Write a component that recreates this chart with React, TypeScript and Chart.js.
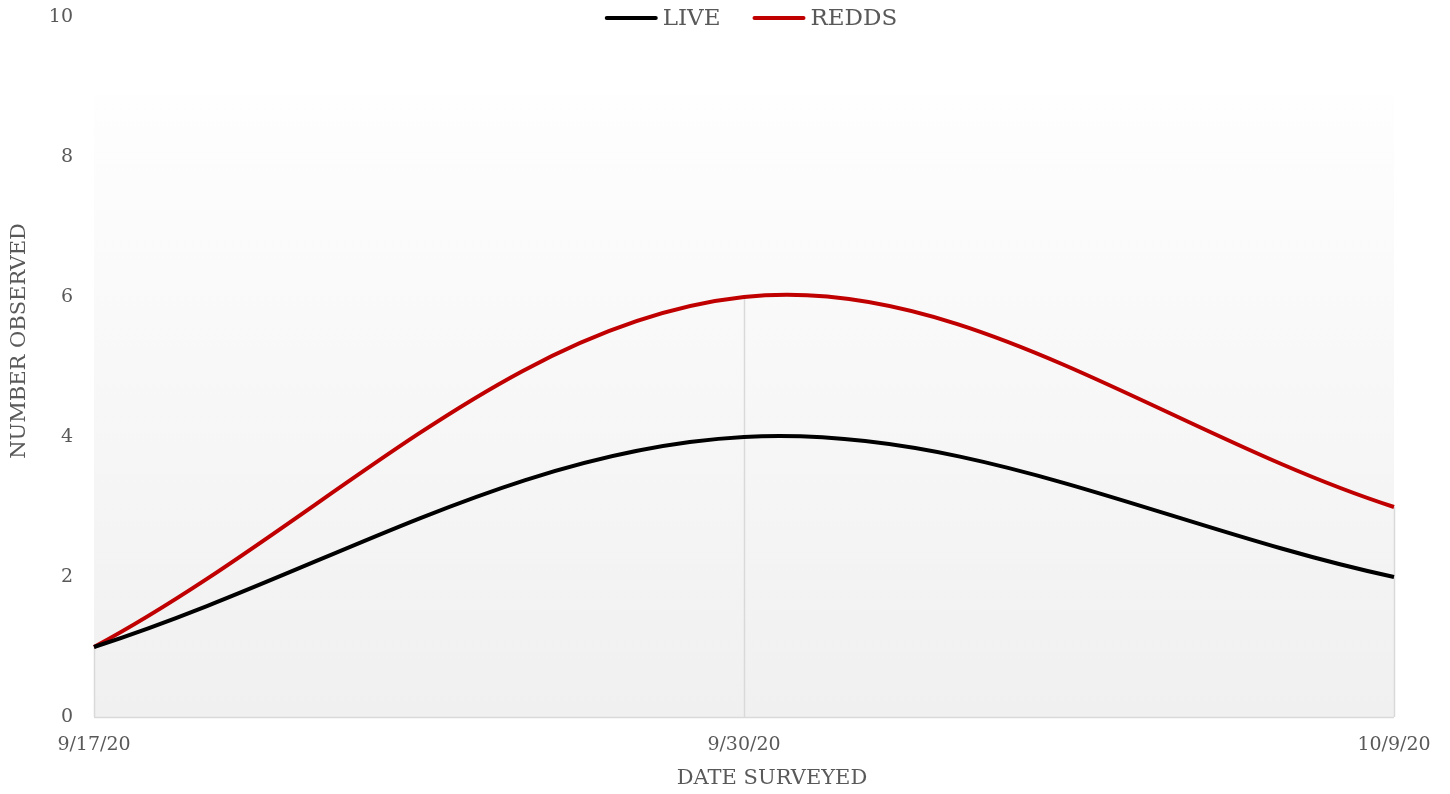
import React, { useEffect, useRef } from "react";
import { Chart, registerables } from "chart.js";

Chart.register(...registerables);

const categories = ["9/17/20", "9/30/20", "10/9/20"];
const liveValues = [1, 4, 2];
const reddsValues = [1, 6, 3];
const yTicks = [0, 2, 4, 6, 8, 10];
const xTitle = "DATE SURVEYED";
const yTitle = "NUMBER OBSERVED";

const FONT = "'DejaVu Serif', serif";
const TEXT_COLOR = "#595959";

const bgPlugin = {
  id: "bgPlugin",
  beforeDatasetsDraw(chart: any) {
    const { ctx, chartArea } = chart;
    const x = chart.scales.x;
    const y = chart.scales.y;
    const top = chartArea.top + 78;
    const bottom = chartArea.bottom;
    ctx.save();
    const g = ctx.createLinearGradient(0, top, 0, bottom);
    g.addColorStop(0, "#fefefe");
    g.addColorStop(1, "#f0f0f0");
    ctx.fillStyle = g;
    ctx.fillRect(chartArea.left, top, chartArea.right - chartArea.left, bottom - top);
    ctx.strokeStyle = "#d9d9d9";
    ctx.lineWidth = 1.5;
    categories.forEach((_, i) => {
      const maxV = Math.max(...chart.data.datasets.map((d: any) => d.data[i]));
      const px = Math.round(x.getPixelForValue(i)) + 0.5;
      ctx.beginPath();
      ctx.moveTo(px, y.getPixelForValue(maxV));
      ctx.lineTo(px, bottom);
      ctx.stroke();
    });
    ctx.beginPath();
    ctx.moveTo(chartArea.left, bottom + 0.5);
    ctx.lineTo(chartArea.right, bottom + 0.5);
    ctx.stroke();
    ctx.restore();
  },
};

const textPlugin = {
  id: "textPlugin",
  afterDraw(chart: any) {
    const { ctx } = chart;
    ctx.save();
    ctx.fillStyle = TEXT_COLOR;
    ctx.font = `21px ${FONT}`;
    ctx.textAlign = "center";
    ctx.textBaseline = "middle";
    ctx.fillText(xTitle, 772, 779);
    ctx.save();
    ctx.translate(20, 341);
    ctx.rotate(-Math.PI / 2);
    ctx.fillText(yTitle, 0, 0);
    ctx.restore();

    ctx.font = `23px ${FONT}`;
    const items = chart.data.datasets.map((d: any) => ({ label: d.label, color: d.borderColor }));
    const lineLen = 53;
    const gapText = 5;
    const gapItems = 32;
    const widths = items.map((it: any) => lineLen + gapText + ctx.measureText(it.label).width);
    const total = widths.reduce((a: number, b: number) => a + b, 0) + gapItems * (items.length - 1);
    let x = 751 - total / 2;
    const yy = 18;
    items.forEach((it: any, i: number) => {
      ctx.strokeStyle = it.color;
      ctx.lineWidth = 4;
      ctx.lineCap = "round";
      ctx.beginPath();
      ctx.moveTo(x + 2, yy);
      ctx.lineTo(x + lineLen - 2, yy);
      ctx.stroke();
      ctx.fillStyle = TEXT_COLOR;
      ctx.textAlign = "left";
      ctx.fillText(it.label, x + lineLen + gapText, yy + 1);
      x += widths[i] + gapItems;
    });
    ctx.restore();
  },
};

export default function App() {
  const ref = useRef<HTMLCanvasElement>(null);
  useEffect(() => {
    document.body.style.margin = "0";
    const chart = new Chart(ref.current!, {
      type: "line",
      data: {
        labels: categories,
        datasets: [
          {
            label: "LIVE",
            data: liveValues,
            borderColor: "#000000",
            backgroundColor: "#000000",
            borderWidth: 4,
            pointRadius: 0,
            tension: 0.35,
            fill: false,
          },
          {
            label: "REDDS",
            data: reddsValues,
            borderColor: "#c00000",
            backgroundColor: "#c00000",
            borderWidth: 4,
            pointRadius: 0,
            tension: 0.35,
            fill: false,
          },
        ],
      },
      options: {
        animation: false,
        responsive: false,
        maintainAspectRatio: false,
        layout: { autoPadding: false, padding: { top: 17, right: 56, left: 0, bottom: 0 } },
        plugins: {
          legend: { display: false },
          tooltip: { enabled: false },
        },
        scales: {
          x: {
            type: "category",
            offset: false,
            grid: { display: false, drawTicks: false },
            border: { display: false },
            ticks: {
              color: TEXT_COLOR,
              font: { family: FONT, size: 19 },
              padding: 17,
              maxRotation: 0,
              autoSkip: false,
            },
            afterFit(scale: any) {
              scale.height = 77;
              scale.paddingLeft = 0;
              scale.paddingRight = 0;
            },
          },
          y: {
            min: 0,
            max: 10,
            afterBuildTicks(scale: any) {
              scale.ticks = yTicks.map((v) => ({ value: v }));
            },
            grid: { display: false, drawTicks: false },
            border: { display: false },
            ticks: {
              color: TEXT_COLOR,
              font: { family: FONT, size: 19 },
              padding: 21,
            },
            afterFit(scale: any) {
              scale.width = 94;
              scale.paddingTop = 0;
              scale.paddingBottom = 0;
            },
          },
        },
      },
      plugins: [bgPlugin, textPlugin],
    });
    return () => chart.destroy();
  }, []);
  return (
    <div style={{ width: 1450, height: 794 }}>
      <canvas ref={ref} width={1450} height={794} style={{ display: "block" }} />
    </div>
  );
}
